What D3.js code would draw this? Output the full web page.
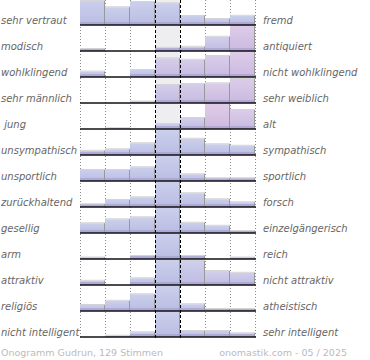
<!DOCTYPE html>
<html>
<head>
<meta charset="UTF-8">
<script src="https://d3js.org/d3.v7.min.js"></script>
<style>
  body { margin: 0; background: #fff; }
  text { font-family: "DejaVu Sans", sans-serif; }
</style>
</head>
<body>
<svg id="onogram" width="370" height="360"></svg>
<script>
// labels of the 13 scales, left and right pole
const leftLabels = ["sehr vertraut", "modisch", "wohlklingend", "sehr männlich", " jung",
  "unsympathisch", "unsportlich", "zurückhaltend", "gesellig", "arm", "attraktiv",
  "religiös", "nicht intelligent"];
const rightLabels = ["fremd", "antiquiert", "nicht wohlklingend", "sehr weiblich", "alt",
  "sympathisch", "sportlich", "forsch", "einzelgängerisch", "reich", "nicht attraktiv",
  "atheistisch", "sehr intelligent"];

// bar height per scale step (0..100, 100 = full row)
const votes = [
  [96, 71, 92, 87, 36, 24, 37],
  [8, 0, 0, 13, 17, 57, 100],
  [22, 0, 28, 75, 69, 84, 100],
  [0, 0, 6, 72, 76, 79, 96],
  [0, 3, 0, 20, 44, 100, 76],
  [17, 23, 47, 100, 65, 43, 37],
  [44, 44, 55, 100, 27, 11, 11],
  [11, 28, 39, 100, 55, 31, 19],
  [39, 55, 63, 100, 41, 29, 8],
  [6, 0, 12, 100, 12, 0, 6],
  [17, 0, 27, 100, 96, 56, 49],
  [24, 41, 67, 100, 27, 8, 8],
  [0, 5, 19, 100, 24, 24, 15]
];

// pink share of each bar (0 = blue, 1 = pink)
const tint = [
  [0, 0, 0, 0, 0, 0, 0],
  [0.2, 0, 0, 0.2, 0.2, 0.3, 0.8],
  [0, 0, 0, 0.5, 0.5, 0.6, 0.8],
  [0, 0, 0, 0.4, 0.5, 0.7, 0.7],
  [0, 0, 0, 0.2, 0.3, 0.9, 0.7],
  [0, 0, 0, 0, 0, 0, 0],
  [0, 0, 0, 0, 0, 0, 0],
  [0, 0, 0, 0, 0, 0, 0],
  [0, 0, 0, 0, 0, 0, 0],
  [0, 0, 0, 0, 0, 0, 0],
  [0, 0, 0, 0, 0.2, 0.3, 0.2],
  [0, 0, 0, 0, 0, 0, 0],
  [0, 0, 0, 0, 0, 0, 0]
];

const footerLeft = "Onogramm Gudrun, 129 Stimmen";
const footerRight = "onomastik.com - 05 / 2025";

const svg = d3.select("#onogram");

const x = d3.scaleBand().domain(d3.range(7)).range([80, 255]);
const base = d3.scaleLinear().domain([0, 12]).range([25, 337]);
const h = d3.scaleLinear().domain([0, 100]).range([0, 25]);
const color = d3.interpolateRgb("#c4c9e9", "#dec4e5");

const defs = svg.append("defs");
const shade = defs.append("linearGradient").attr("id", "shade")
    .attr("x1", 0).attr("y1", 0).attr("x2", 0).attr("y2", 1);
shade.append("stop").attr("offset", "0%").attr("stop-color", "#fff").attr("stop-opacity", 0.12);
shade.append("stop").attr("offset", "100%").attr("stop-color", "#6a60b0").attr("stop-opacity", 0.12);

// grey background of the middle step
svg.append("g").selectAll("rect").data(votes).join("rect")
    .attr("x", x(3)).attr("width", x.bandwidth())
    .attr("y", (d, i) => base(i) - 26).attr("height", 26)
    .attr("fill", "#eeeef0");

// dotted grid
const gridX = [80, 105, 130, 205, 230, 255];
svg.append("g").selectAll("line").data(gridX).join("line")
    .attr("x1", d => d + 0.5).attr("x2", d => d + 0.5)
    .attr("y1", 0).attr("y2", 339)
    .attr("stroke", "#8a8a8a").attr("stroke-dasharray", "1,2");

// bars
const rows = svg.append("g").selectAll("g").data(votes).join("g");
const bars = rows.selectAll("g").data((d, i) => d.map((v, j) => ({ v: v, j: j, row: i })).filter(b => b.v > 0))
    .join("g");

bars.append("rect")
    .attr("x", b => x(b.j)).attr("width", x.bandwidth())
    .attr("y", b => base(b.row) - h(b.v)).attr("height", b => h(b.v))
    .attr("fill", b => color(tint[b.row][b.j]));
bars.append("rect")
    .attr("x", b => x(b.j)).attr("width", x.bandwidth())
    .attr("y", b => base(b.row) - h(b.v)).attr("height", b => h(b.v))
    .attr("fill", "url(#shade)");
bars.append("rect")
    .attr("x", b => x(b.j)).attr("width", x.bandwidth())
    .attr("y", b => base(b.row) - Math.min(3, h(b.v))).attr("height", b => Math.min(3, h(b.v)))
    .attr("fill", "#9f98cc").attr("opacity", 0.55);
bars.append("line")
    .attr("x1", b => x(b.j)).attr("x2", b => x(b.j) + x.bandwidth())
    .attr("y1", b => base(b.row) - h(b.v) - 0.5).attr("y2", b => base(b.row) - h(b.v) - 0.5)
    .attr("stroke", "#d4d4d8");
bars.append("line")
    .attr("x1", b => x(b.j) + x.bandwidth() - 0.5).attr("x2", b => x(b.j) + x.bandwidth() - 0.5)
    .attr("y1", b => base(b.row) - h(b.v)).attr("y2", b => base(b.row))
    .attr("stroke", "#999");

// baselines
svg.append("g").selectAll("line").data(votes).join("line")
    .attr("x1", 80).attr("x2", 256)
    .attr("y1", (d, i) => base(i)).attr("y2", (d, i) => base(i))
    .attr("stroke", "#111").attr("stroke-width", 1.5);

// dashed borders of the middle step
svg.append("g").selectAll("line").data([x(3), x(4)]).join("line")
    .attr("x1", d => d + 0.5).attr("x2", d => d + 0.5)
    .attr("y1", 0).attr("y2", 339)
    .attr("stroke", "#000").attr("stroke-dasharray", "3,2");

// labels
svg.append("g").selectAll("text").data(leftLabels).join("text")
    .attr("x", 1).attr("y", (d, i) => base(i) - 1.5)
    .attr("font-size", 10).attr("font-style", "italic").attr("fill", "#666")
    .style("white-space", "pre")
    .text(d => d);
svg.append("g").selectAll("text").data(rightLabels).join("text")
    .attr("x", 263).attr("y", (d, i) => base(i) - 1.5)
    .attr("font-size", 10).attr("font-style", "italic").attr("fill", "#666")
    .text(d => d);

svg.append("text").attr("x", 1).attr("y", 355.5)
    .attr("font-size", 9.5).attr("fill", "#bbb").text(footerLeft);
svg.append("text").attr("x", 347).attr("y", 355.5).attr("text-anchor", "end")
    .attr("font-size", 9.5).attr("fill", "#bbb").text(footerRight);
</script>
</body>
</html>
